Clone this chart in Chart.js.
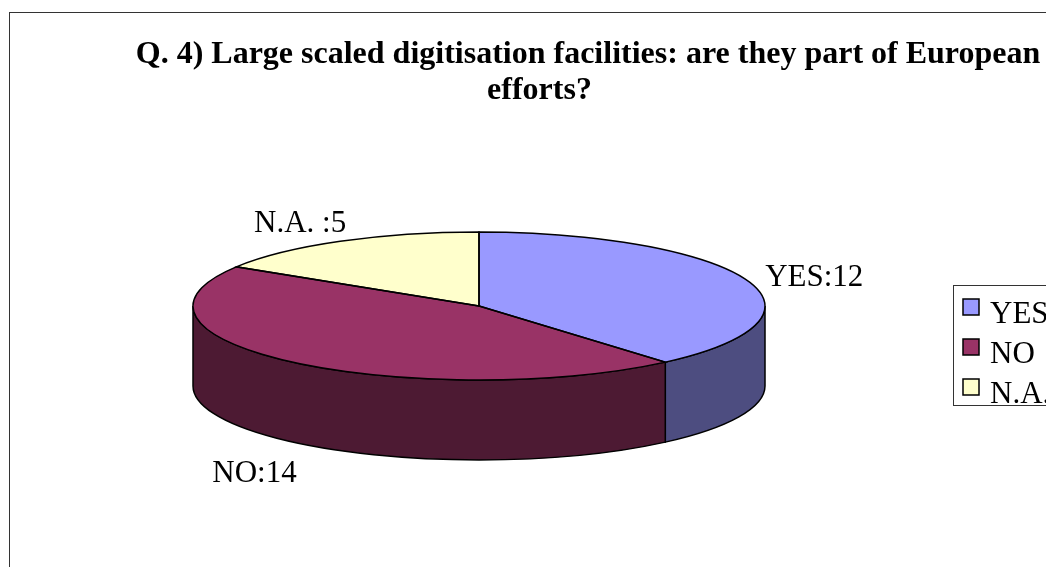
<!DOCTYPE html>
<html>
<head>
<meta charset="utf-8">
<title>Q. 4</title>
<script src="https://cdn.jsdelivr.net/npm/chart.js@4"></script>
<style>
    html, body { margin: 0; padding: 0; background: #fff; overflow: hidden; width: 1046px; height: 567px; }
    #frame { position: absolute; left: 9px; top: 12px; width: 1200px; height: 700px; border: 1px solid #333; }
    #chart { display: block; }
</style>
</head>
<body>
<div id="frame"><canvas id="chart" width="1036" height="554"></canvas></div>
<script>
// Chart data
const categories = ['YES', 'NO', 'N.A.'];
const answers = [12, 14, 5];
const sliceLabels = ['YES:12', 'NO:14', 'N.A. :5'];
const titleLines = ['Q. 4) Large scaled digitisation facilities: are they part of European', 'efforts?'];

// Colours
const topColors = ['#9999FF', '#993366', '#FFFFCC'];
const wallColors = ['#4D4D80', '#4D1A33', '#808066'];

// Fake 3D pie: the library computes the arcs, we squash them and add a wall
const PIE_X = 469, PIE_Y = 293, PIE_R = 286, SQUASH = 0.2587, DEPTH = 80;
const LINE = 1.5;
const FONT = '"Liberation Serif", "Times New Roman", serif';

// dx, dy from the rim point at the middle of each slice
const labelOffsets = [
    { dx: 18, dy: -2, align: 'left' },
    { dx: 4, dy: 32, align: 'right' },
    { dx: 6, dy: -17, align: 'right' }
];

function squash(ctx, arc, shift) {
    ctx.translate(0, PIE_Y + shift);
    ctx.scale(1, SQUASH);
    ctx.translate(0, -arc.y);
}

// adds to the current path in squashed space, stroke stays even afterwards
function addArc(ctx, arc, shift, from, to, back) {
    ctx.save();
    squash(ctx, arc, shift);
    ctx.arc(arc.x, arc.y, arc.outerRadius, from, to, back);
    ctx.restore();
}

const pie3d = {
    id: 'pie3d',
    afterLayout(chart) {
        // pie centre comes from the chart area
        const area = chart.chartArea;
        area.left = 0; area.right = PIE_X * 2; area.width = PIE_X * 2;
        area.top = 0; area.bottom = PIE_Y * 2; area.height = PIE_Y * 2;

        // title is cut off by the window, so it is not centred on the canvas
        chart.titleBlock.left = 0;
        chart.titleBlock.right = 1156;
        chart.titleBlock.top = 23;
        const sub = chart.boxes.find(b => b.options && b.options.text === titleLines[1]);
        sub.left = 0;
        sub.right = 1059;
        sub.top = 59;
    },
    beforeDatasetsDraw(chart) {
        const ctx = chart.ctx;
        const arcs = chart.getDatasetMeta(0).data;
        ctx.strokeStyle = '#000';
        ctx.lineWidth = LINE;
        // walls on the front half only
        arcs.forEach((arc, i) => {
            const from = Math.max(arc.startAngle, 0);
            const to = Math.min(arc.endAngle, Math.PI);
            if (to <= from) return;
            ctx.fillStyle = wallColors[i];
            ctx.beginPath();
            addArc(ctx, arc, 0, from, to, false);
            addArc(ctx, arc, DEPTH, to, from, true);
            ctx.closePath();
            ctx.fill();
            ctx.stroke();
        });
        ctx.save();
        squash(ctx, arcs[0], 0);
    },
    afterDatasetsDraw(chart) {
        const ctx = chart.ctx;
        ctx.restore();
        const arcs = chart.getDatasetMeta(0).data;
        ctx.strokeStyle = '#000';
        ctx.lineWidth = LINE;

        // slice outlines
        arcs.forEach(arc => {
            ctx.beginPath();
            ctx.moveTo(arc.x, PIE_Y);
            addArc(ctx, arc, 0, arc.startAngle, arc.endAngle, false);
            ctx.closePath();
            ctx.stroke();
        });

        // slice labels
        ctx.fillStyle = '#000';
        ctx.font = '31px ' + FONT;
        ctx.textBaseline = 'middle';
        arcs.forEach((arc, i) => {
            const mid = (arc.startAngle + arc.endAngle) / 2;
            const s = Math.sin(mid);
            const off = labelOffsets[i];
            const x = arc.x + arc.outerRadius * Math.cos(mid) + off.dx;
            const y = PIE_Y + arc.outerRadius * SQUASH * s + (s > 0 ? DEPTH : 0) + off.dy;
            ctx.textAlign = off.align;
            ctx.fillText(sliceLabels[i], x, y);
        });

        // legend, its frame runs off the right edge and the last row sits on the frame
        ctx.strokeStyle = '#333';
        ctx.lineWidth = 1;
        ctx.strokeRect(943.5, 272.5, 200, 120);
        ctx.textAlign = 'left';
        ctx.textBaseline = 'alphabetic';
        categories.forEach((name, i) => {
            const y = 286 + i * 40;
            ctx.fillStyle = topColors[i];
            ctx.fillRect(953, y, 16, 16);
            ctx.strokeStyle = '#000';
            ctx.lineWidth = LINE;
            ctx.strokeRect(953, y, 16, 16);
            ctx.fillStyle = '#000';
            ctx.fillText(name, 980, y + 24);
        });
    }
};

new Chart(document.getElementById('chart').getContext('2d'), {
    type: 'pie',
    data: {
        labels: categories,
        datasets: [{
            data: answers,
            backgroundColor: topColors,
            borderWidth: 0,
            radius: PIE_R,
            clip: false
        }]
    },
    options: {
        responsive: false,
        animation: false,
        events: [],
        plugins: {
            title: {
                display: true,
                text: titleLines[0],
                color: '#000',
                padding: 0,
                font: { family: FONT, size: 32, weight: 'bold' }
            },
            subtitle: {
                display: true,
                text: titleLines[1],
                color: '#000',
                padding: 0,
                font: { family: FONT, size: 32, weight: 'bold' }
            },
            legend: { display: false },
            tooltip: { enabled: false }
        }
    },
    plugins: [pie3d]
});
</script>
</body>
</html>
